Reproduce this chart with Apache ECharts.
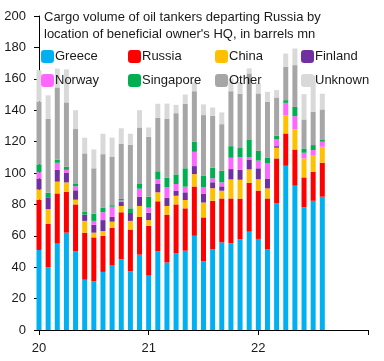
<!DOCTYPE html>
<html><head><meta charset="utf-8">
<script src="https://cdn.jsdelivr.net/npm/echarts@6/dist/echarts.min.js"></script>
<style>html,body{margin:0;padding:0;background:#fff}#c{width:384px;height:361px}</style>
</head><body><div id="c"></div>
<script>
// Month slots on the axis: Jan 2020 .. Jan 2023 (37 points); data covers Jan 2020 .. Aug 2022
const axisMonths = [];
for (let y = 2020; y <= 2022; y++) for (let m = 1; m <= 12; m++) axisMonths.push(y + '-' + String(m).padStart(2,'0'));
axisMonths.push('2023-01');
const yearTicks = {'2020-01':'20', '2021-01':'21', '2022-01':'22'};
const greece    = [51,40,55,62,50,32,31,37,41,45,37.5,48, 34.6,50,43,49,50.5,60,43.7,51.3,55.8,55.2,57.7,62.6, 58,51.5,80.6,104.6,91.9,78.1,82.3,84.9];
const russia    = [32,27.5,32,26,30,30,28,23,24,30,26.5,24, 31.8,32,30.5,31,27,31.4,28,31,28,28.6,26,31.2, 30.8,32.3,28.7,20.6,23.1,19.1,18.5,21.6];
const china     = [6.5,9.5,7.5,6,3,7.5,3,3,4,4,5.5,7, 3.6,5.7,5.5,5.5,5.3,7.9,9.5,8,4.9,12.1,12,8.5, 7.2,6.4,6.8,11.7,12.7,12.1,10.2,10.2];
const finland   = [7,7.5,7.5,6,6,4,5,7,3,2.5,5,6, 4.7,5.3,5.3,3.2,4.9,5.1,5.7,3.8,2.8,6.6,6.4,6.3, 7,6.3,1,0,0,0,0,0];
const norway    = [4,0,4.5,2,2.5,0,2.5,5,6.5,1,0,5, 3.2,3.2,6.8,4.3,3.6,9.1,4,2.5,2.5,7.2,8,1.3, 4.9,9.6,4.3,7.8,8.5,3.6,3.6,3.2];
const singapore = [5,3,2,2,1.5,2,4.5,3,1,1,3,3, 7,4.9,6,6.1,11.7,6.4,7.5,6.8,7.4,7.4,5.8,11.5, 6.2,3.8,2.3,1.7,5.9,2.7,3.2,1.5];
const other     = [40,47,46,41,35,37,29,34,31,35,40.5,36, 38.2,34,37.5,39,41,32.2,38.5,33,29.7,35,34.5,42, 36.6,35.4,24.4,21.2,26.6,18.5,21.2,19.1];
const unknown   = [20,15,12,21,12,10,12,13,12,10,7,11, 5.9,9,9.6,5.3,6,5.7,6.8,5.3,7.5,8,7.5,3.2, 6.4,6.4,4.7,8.5,10.6,16.1,23,10];

const seriesDefs = [
  ['Greece', greece, '#00B0F0'],
  ['Russia', russia, '#FF0000'],
  ['China', china, '#FFC000'],
  ['Finland', finland, '#7030A0'],
  ['Norway', norway, '#FF66FF'],
  ['Singapore', singapore, '#00B050'],
  ['Other', other, '#A6A6A6'],
  ['Unknown', unknown, '#D9D9D9']
];
const FONT = 'Liberation Sans, Arial, sans-serif';
const TXT = '#1a1a1a';

const chart = echarts.init(document.getElementById('c'), null, {renderer:'canvas'});
const legendCols = [['Greece','Norway'],['Russia','Singapore'],['China','Other'],['Finland','Unknown']];
const legendLeft = [41,128,215,301];
const legends = legendCols.map((d,i)=>({
  data: d, left: legendLeft[i], top: 50, orient: 'vertical',
  itemWidth: 13, itemHeight: 13, itemGap: 11, icon: 'roundRect',
  selectedMode: false, padding: 0,
  textStyle: {fontFamily: FONT, fontSize: 13, color: TXT, padding: [0,0,0,-4]}
}));

chart.setOption({
  animation: false,
  title: {
    text: 'Cargo volume of oil tankers departing Russia by\nlocation of beneficial owner\'s HQ, in barrels mn',
    left: 44, top: 9, padding: 0,
    textStyle: {fontFamily: FONT, fontSize: 13, fontWeight: 'normal', color: TXT, lineHeight: 17}
  },
  legend: legends,
  grid: {left: 39, right: 16, top: 16, bottom: 31},
  xAxis: {
    type: 'category', data: axisMonths, boundaryGap: false,
    axisLine: {show: true, lineStyle: {color: '#000', width: 1}},
    axisTick: {show: true, length: 5, interval: 11, lineStyle: {color: '#000'}},
    splitLine: {show: false},
    axisLabel: {fontFamily: FONT, fontSize: 13, color: TXT, margin: 12, interval: 11,
      formatter: v => yearTicks[v] || ''}
  },
  yAxis: {
    type: 'value', min: 0, max: 200, interval: 20,
    axisLine: {show: true, lineStyle: {color: '#000', width: 1}},
    axisTick: {show: true, length: 5, lineStyle: {color: '#000'}},
    splitLine: {show: false},
    axisLabel: {fontFamily: FONT, fontSize: 13, color: TXT, margin: 13}
  },
  series: seriesDefs.map(([name, vals, color]) => ({
    name, type: 'bar', stack: 'total', barWidth: 5, clip: true,
    itemStyle: {color},
    data: vals
  }))
});
</script></body></html>
